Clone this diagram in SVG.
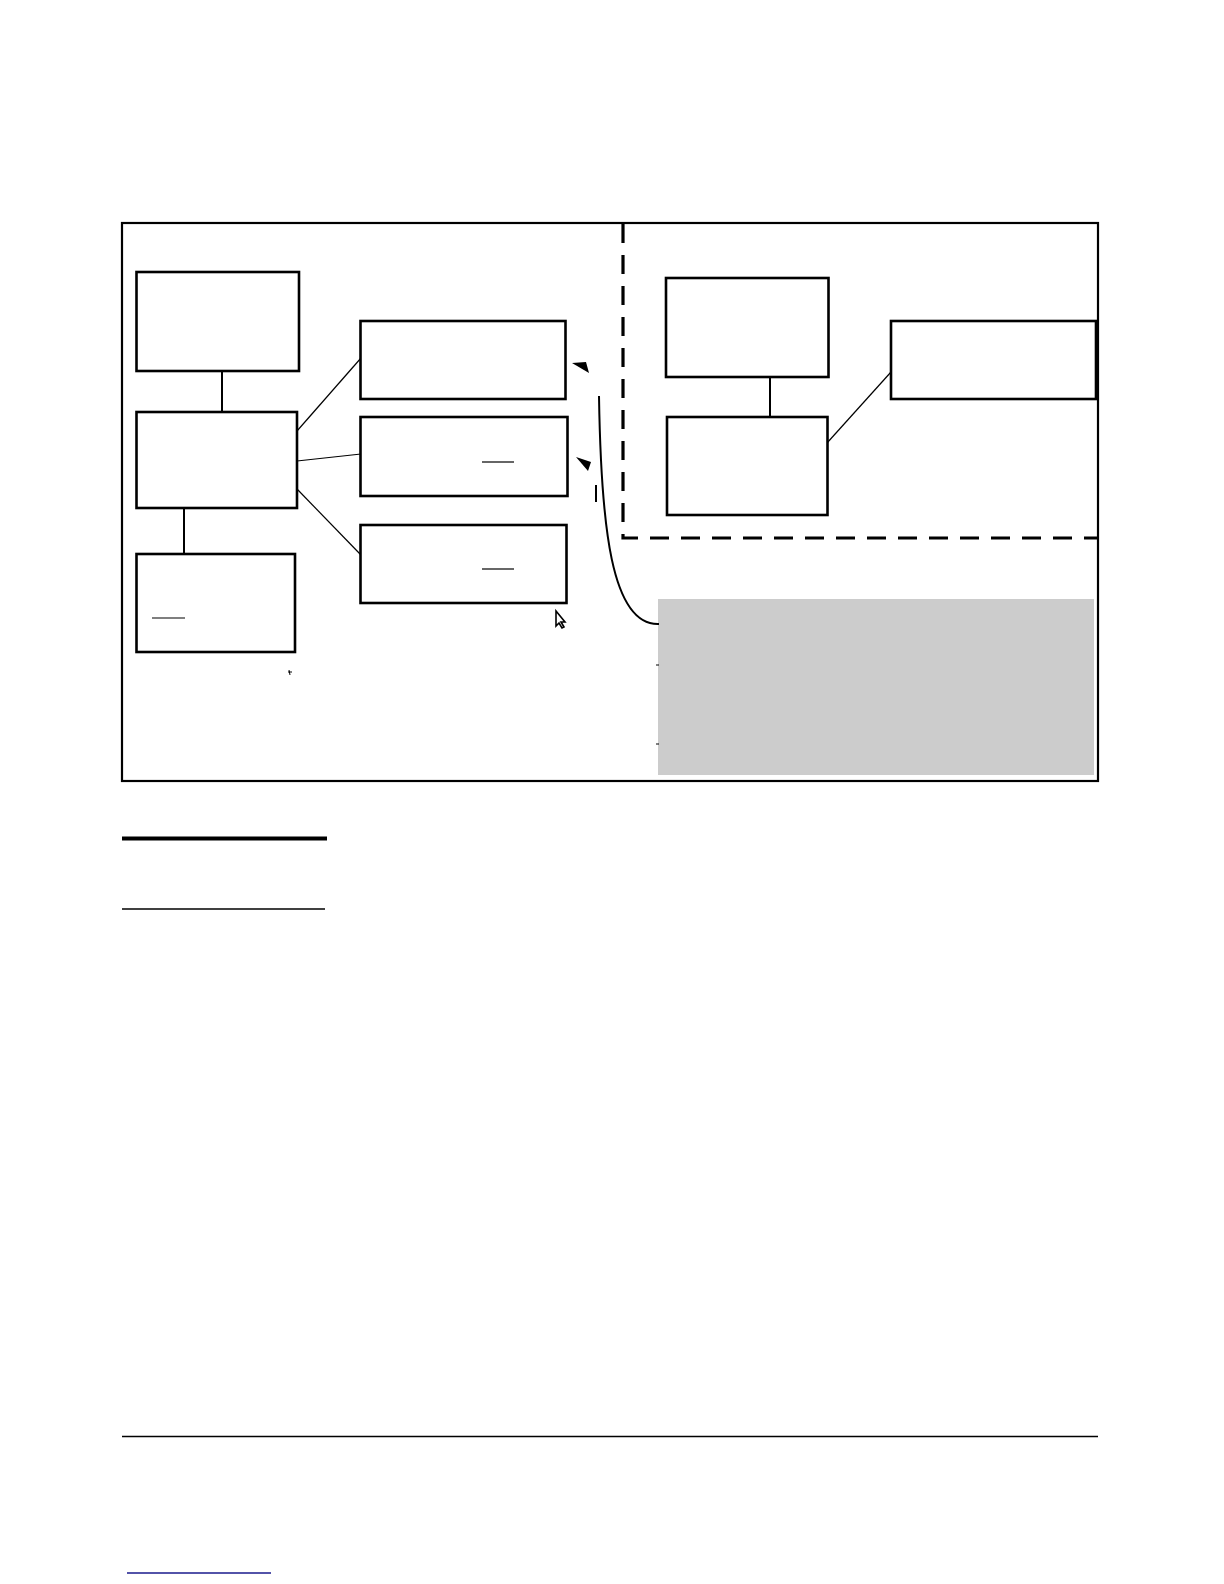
<svg xmlns="http://www.w3.org/2000/svg" width="1224" height="1584" viewBox="0 0 1224 1584">
<style>
.box{fill:#ffffff;stroke:#000000;stroke-width:2.6}
.conn{stroke:#000000;fill:none}
.thin{stroke-width:1.2}
.thick{stroke-width:2}
.ul{stroke:#000000;stroke-width:1.2}
.rule{stroke:#000000}
</style>
<rect width="1224" height="1584" fill="#ffffff"/>
<g id="frame">
<rect x="122" y="223" width="976" height="558" fill="none" stroke="#000" stroke-width="2.2"/>
</g>
<g id="region-dashed">
<path d="M623,224 V538 H1097" fill="none" stroke="#000" stroke-width="3.2" stroke-dasharray="19,12"/>
</g>
<g id="note">
<rect x="658" y="599" width="436" height="176" fill="#cccccc"/>
<line x1="656" y1="665" x2="659" y2="665" stroke="#000" stroke-width="1"/>
<line x1="656" y1="744" x2="659" y2="744" stroke="#000" stroke-width="1"/>
</g>
<g id="connectors">
<line class="conn thick" x1="222" y1="369" x2="222" y2="412"/>
<line class="conn thick" x1="184" y1="508" x2="184" y2="554"/>
<line class="conn thin" x1="297" y1="431" x2="361" y2="358"/>
<line class="conn thin" x1="297" y1="461" x2="361" y2="454"/>
<line class="conn thin" x1="297" y1="489" x2="361" y2="555"/>
<line class="conn thick" x1="770" y1="377" x2="770" y2="419"/>
<line class="conn thin" x1="827" y1="443" x2="891" y2="372"/>
<path class="conn" stroke-width="2" d="M599,396 C601,525 611,626 659,624"/>
</g>
<g id="node-a"><rect class="box" x="136.5" y="272" width="162.5" height="99"/></g>
<g id="node-b"><rect class="box" x="136.5" y="412" width="160.5" height="96"/></g>
<g id="node-c"><rect class="box" x="136.5" y="554" width="158.5" height="98"/>
<line class="ul" x1="152" y1="618" x2="185" y2="618"/></g>
<g id="node-d"><rect class="box" x="360.5" y="321" width="205" height="78"/></g>
<g id="node-e"><rect class="box" x="360.5" y="417" width="207" height="79"/>
<line class="ul" x1="482" y1="462" x2="514" y2="462"/></g>
<g id="node-f"><rect class="box" x="360.5" y="525" width="206" height="78"/>
<line class="ul" x1="482" y1="569" x2="514" y2="569"/></g>
<g id="node-g"><rect class="box" x="666" y="278" width="162.5" height="99"/></g>
<g id="node-h"><rect class="box" x="667" y="417" width="160.5" height="98"/></g>
<g id="node-i"><rect class="box" x="891" y="321" width="205" height="78"/></g>
<g id="marks">
<polygon points="572,363 586,362 589,373" fill="#000"/>
<polygon points="576,457 591,462 588,471" fill="#000"/>
<line x1="596" y1="485" x2="596" y2="502" stroke="#000" stroke-width="2"/>
<path d="M556,611 L556,626 L559,623 L562,628 L564,627 L561,622 L565,622 Z" fill="#fff" stroke="#000" stroke-width="1.6"/>
<path d="M289,670 L290,675 M288,672 L292,672" stroke="#000" stroke-width="1"/>
</g>
<g id="rules">
<line class="rule" x1="122" y1="838.5" x2="327" y2="838.5" stroke-width="4"/>
<line class="rule" x1="122" y1="909" x2="325" y2="909" stroke-width="1.5"/>
<line class="rule" x1="122" y1="1436.5" x2="1098" y2="1436.5" stroke-width="1.5"/>
<line x1="127" y1="1573" x2="271" y2="1573" stroke="#1a1a8c" stroke-width="1.5"/>
</g>
</svg>
